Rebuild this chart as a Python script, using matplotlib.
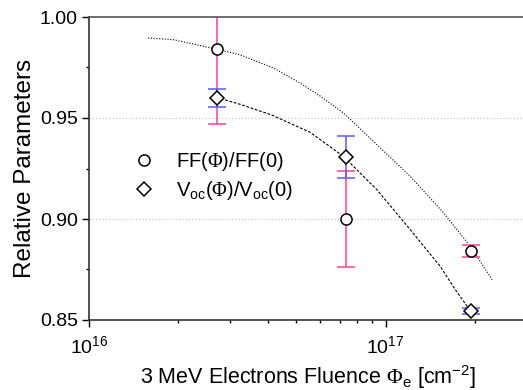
import numpy as np
import matplotlib
matplotlib.use('Agg')
import matplotlib.pyplot as plt
from matplotlib.lines import Line2D
from matplotlib.ticker import LogLocator, MultipleLocator, FormatStrFormatter, NullFormatter

plt.rcParams['font.family'] = ['Liberation Sans', 'DejaVu Sans']
plt.rcParams['mathtext.fontset'] = 'custom'
plt.rcParams['mathtext.rm'] = 'Liberation Serif'
plt.rcParams['font.size'] = 14

# measured points
fluence = [2.70e16, 7.33e16, 1.94e17]
ff_rel = [0.984, 0.900, 0.884]
ff_err = [0.037, 0.024, 0.003]
voc_rel = [0.960, 0.9307, 0.8545]
voc_err = [0.0045, 0.0105, 0.0015]

# fit curves
ff_fit_x = [1.582e16, 1.922e16, 2.694e16, 3.229e16, 4.183e16, 5.150e16, 5.937e16,
            7.213e16, 9.353e16, 1.212e17, 1.570e17, 1.933e17, 2.288e17]
ff_fit_y = [0.9896, 0.9888, 0.9841, 0.9813, 0.9748, 0.9673, 0.9615,
            0.9525, 0.9368, 0.9211, 0.9030, 0.8864, 0.8700]
voc_fit_x = [2.694e16, 3.229e16, 4.131e16, 5.568e16, 7.213e16, 9.353e16,
             1.212e17, 1.530e17, 1.720e17, 1.933e17]
voc_fit_y = [0.9602, 0.9568, 0.9515, 0.9429, 0.9310, 0.9145,
             0.8947, 0.8765, 0.8650, 0.8545]

pink = '#ff5aa5'
blue = '#5a5aff'

fig = plt.figure(figsize=(5.23, 3.90), dpi=100)
ax = fig.add_axes([89 / 523, 1 - 320 / 390, 438 / 523, 303 / 390])

ax.axhline(0.90, color='#c8c8c8', ls=':', lw=0.9, zorder=0)
ax.axhline(0.95, color='#c8c8c8', ls=':', lw=0.9, zorder=0)

ax.plot(ff_fit_x, ff_fit_y, color='black', ls=(0, (1, 1.5)), lw=0.8, zorder=1)
ax.plot(voc_fit_x, voc_fit_y, color='black', ls=(0, (2.5, 1.5)), lw=0.8, zorder=1)

ax.errorbar(fluence, ff_rel, yerr=ff_err, fmt='none', ecolor=pink, elinewidth=1.3,
            capsize=6.5, capthick=1.3, zorder=2)
ax.errorbar(fluence, voc_rel, yerr=voc_err, fmt='none', ecolor=blue, elinewidth=1.3,
            capsize=6.5, capthick=1.3, alpha=0.85, zorder=3)

ax.plot(fluence, ff_rel, 'o', ms=8, mfc='white', mec='black', mew=1.1, ls='none', zorder=4)
ax.plot(fluence, voc_rel, 'D', ms=7, mfc='white', mec='black', mew=1.1, ls='none', zorder=4)

ax.set_xscale('log')
ax.set_xlim(1e16, 3.0e17)
ax.set_ylim(0.85, 1.00)
ax.xaxis.set_major_locator(LogLocator(base=10))
ax.xaxis.set_minor_locator(LogLocator(base=10, subs=np.arange(2, 10)))
ax.xaxis.set_minor_formatter(NullFormatter())
ax.yaxis.set_major_locator(MultipleLocator(0.05))
ax.yaxis.set_minor_locator(MultipleLocator(0.025))
ax.yaxis.set_major_formatter(FormatStrFormatter('%.2f'))

ax.tick_params(which='major', direction='out', length=5, width=1, labelsize=14)
ax.tick_params(which='minor', direction='out', length=2.5, width=1)
ax.tick_params(axis='x', which='major', pad=6)
ax.tick_params(axis='y', which='major', pad=3)

ax.spines['right'].set_visible(False)
for s in ['left', 'bottom', 'top']:
    ax.spines[s].set_linewidth(1.2)
ax.spines['top'].set_color('#555555')
ax.spines['left'].set_color('#333333')
ax.spines['bottom'].set_color('#333333')

ax.set_ylabel('Relative Parameters', fontsize=17.5, labelpad=3)
ax.set_xlabel(r'3 MeV Electrons Fluence $\mathrm{\Phi}_{\mathdefault{e}}$ [cm$^{\mathdefault{-2}}$]',
              fontsize=15.5, labelpad=4)

handles = [Line2D([], [], marker='o', ms=8, mfc='white', mec='black', mew=1.1, ls='none'),
           Line2D([], [], marker='D', ms=7, mfc='white', mec='black', mew=1.1, ls='none')]
labels = [r'FF($\mathrm{\Phi}$)/FF(0)',
          r'V$_{\mathdefault{oc}}$($\mathrm{\Phi}$)/V$_{\mathdefault{oc}}$(0)']
ax.legend(handles, labels, loc='upper left', bbox_to_anchor=(124 / 523, 1 - 150 / 390),
          bbox_transform=fig.transFigure, frameon=False, fontsize=14.5,
          handletextpad=0.6, labelspacing=0.3, borderpad=0, borderaxespad=0)

fig.savefig('out.png', dpi=100)
